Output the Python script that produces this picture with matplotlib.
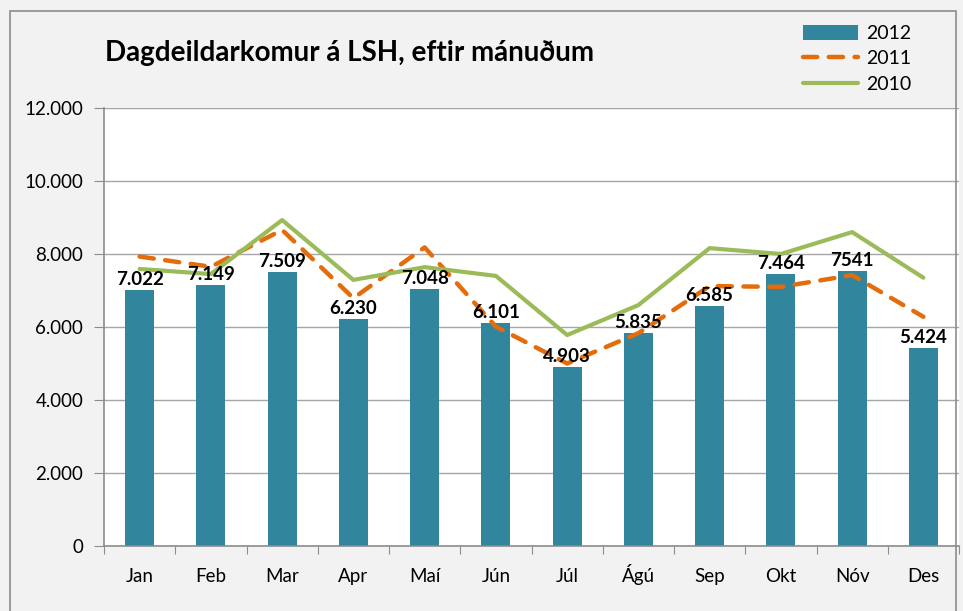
import matplotlib
matplotlib.use("Agg")
from matplotlib import pyplot as plt
from matplotlib.patches import Rectangle
from matplotlib.ticker import FuncFormatter
import numpy as np

# Gögn
manudir = ["Jan", "Feb", "Mar", "Apr", "Maí", "Jún", "Júl", "Ágú", "Sep", "Okt", "Nóv", "Des"]
komur_2012 = [7022, 7149, 7509, 6230, 7048, 6101, 4903, 5835, 6585, 7464, 7541, 5424]
merki_2012 = ["7.022", "7.149", "7.509", "6.230", "7.048", "6.101", "4.903", "5.835", "6.585", "7.464", "7541", "5.424"]
komur_2011 = [7930, 7650, 8660, 6790, 8180, 6010, 5000, 5830, 7120, 7100, 7420, 6280]
komur_2010 = [7590, 7450, 8930, 7290, 7640, 7400, 5780, 6600, 8160, 8000, 8600, 7350]

plt.rcParams["font.family"] = ["Lato", "DejaVu Sans"]

fig = plt.figure(figsize=(9.63, 6.11), dpi=100)
fig.patch.set_facecolor("#f2f2f2")
fig.patches.append(Rectangle((10 / 963, -0.1), 946 / 963, 1.1 - 11 / 611, transform=fig.transFigure,
                             fill=False, edgecolor="#8c8c8c", linewidth=1.2))

ax = fig.add_axes([104 / 963, (611 - 546) / 611, 855 / 963, 438 / 611])
ax.set_facecolor("white")

x = np.arange(len(manudir))
bars = ax.bar(x, komur_2012, width=0.41, color="#31859C", label="2012", zorder=2)
l11, = ax.plot(x, komur_2011, color="#E46C0A", linewidth=3.2, dashes=(3.2, 2.6),
               solid_capstyle="round", dash_capstyle="round", label="2011", zorder=3)
l10, = ax.plot(x, komur_2010, color="#9BBB59", linewidth=3.0, solid_capstyle="round", label="2010", zorder=3)

for xi, v, t in zip(x, komur_2012, merki_2012):
    ax.text(xi, v + 50, t, ha="center", va="bottom", fontsize=13.5, fontweight="bold", zorder=4)

ax.set_xlim(-0.5, 11.5)
ax.set_ylim(0, 12000)
ax.set_yticks(range(0, 12001, 2000))
ax.yaxis.set_major_formatter(FuncFormatter(lambda v, p: "0" if v == 0 else f"{int(v):,}".replace(",", ".")))
ax.grid(axis="y", color="#a6a6a6", linewidth=1.0, zorder=0)
ax.set_axisbelow(True)

ax.set_xticks(np.arange(-0.5, 12, 1))
ax.set_xticklabels([])
ax.set_xticks(x, minor=True)
ax.set_xticklabels(manudir, minor=True, va="baseline")
ax.tick_params(axis="x", which="major", length=6, color="#8c8c8c", direction="out")
ax.tick_params(axis="x", which="minor", length=0, pad=26, labelsize=13.5)
ax.tick_params(axis="y", length=7, color="#8c8c8c", direction="out", pad=8, labelsize=13.5)

for s in ["top", "right"]:
    ax.spines[s].set_visible(False)
for s in ["left", "bottom"]:
    ax.spines[s].set_color("#8c8c8c")
    ax.spines[s].set_linewidth(1.2)

fig.text(105 / 963, 1 - 53 / 611, "Dagdeildarkomur á LSH, eftir mánuðum", fontsize=20,
         fontweight="bold", va="center", ha="left")

fig.legend([bars, l11, l10], ["2012", "2011", "2010"], loc="upper left",
           bbox_to_anchor=(793 / 963, 1 - 15 / 611), frameon=False,
           fontsize=14, handlelength=2.85, handleheight=0.8, labelspacing=0.42, borderpad=0,
           handletextpad=0.4)

fig.savefig("out.png", dpi=100, facecolor=fig.get_facecolor())
